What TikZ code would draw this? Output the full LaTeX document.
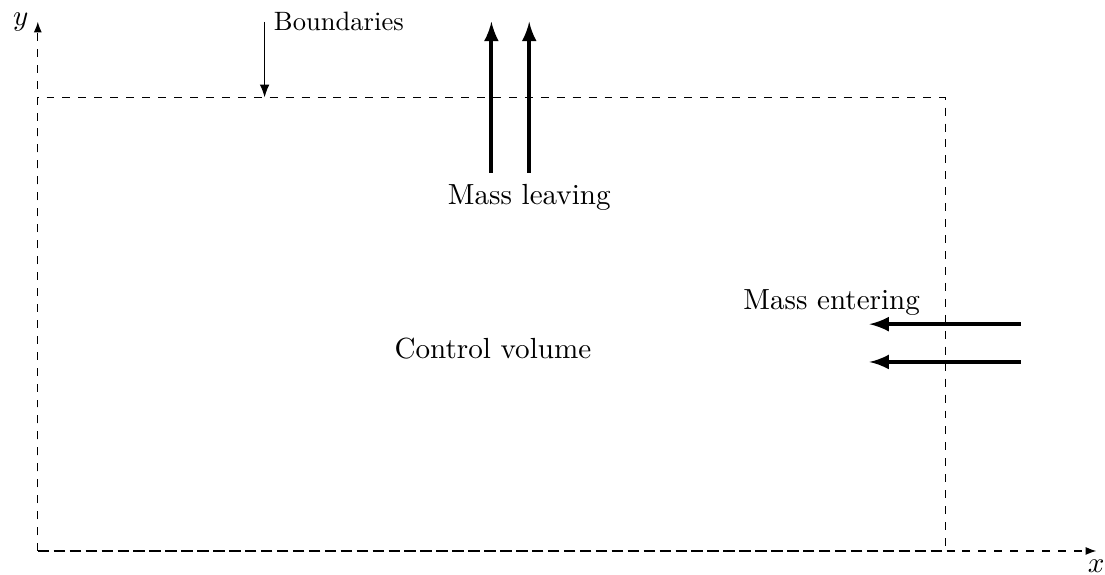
\documentclass[tikz,border=0pt]{standalone}
\usetikzlibrary{arrows,arrows.meta}
\begin{document}
\begin{tikzpicture}[
  boundary/.style={dashed, line width=0.4pt},
  axis/.style={dashed, -{Latex[length=4pt,width=3pt]}},
  flow/.style={line width=1.5pt, -latex},
  pointer/.style={-{Latex}},
  lbl/.style={font=\fontsize{10.95}{13}\selectfont},
  smalllbl/.style={font=\normalsize}
]
\useasboundingbox (-0.5,-0.317) rectangle (14.116,7.288);
% coordinates
\coordinate (O) at (0,0);
\coordinate (X) at (14,0);
\coordinate (Y) at (0,7);
\coordinate (B1) at (3,7);
\coordinate (B2) at (3,6);
\coordinate (L1s) at (6,5);
\coordinate (L1e) at (6,7);
\coordinate (L2s) at (6.5,5);
\coordinate (L2e) at (6.5,7);
\coordinate (E1s) at (13,3);
\coordinate (E1e) at (11,3);
\coordinate (E2s) at (13,2.5);
\coordinate (E2e) at (11,2.5);
% control volume boundary
\draw[boundary] (O) rectangle (12,6);
% axes
\draw[axis] (O) -- (X);
\draw[axis] (O) -- (Y);
\node[below, lbl] (xl) at (X) {$x$};
\node[left, lbl] (yl) at (Y) {$y$};
% boundaries pointer
\draw[pointer] (B1) -- (B2);
\node[right, smalllbl] (bl) at (B1) {Boundaries};
% mass leaving
\draw[flow] (L1s) -- (L1e);
\draw[flow] (L2s) -- (L2e);
\node[lbl] (ml) at (6.5,4.68) {Mass leaving};
% mass entering
\draw[flow] (E1s) -- (E1e);
\draw[flow] (E2s) -- (E2e);
\node[lbl] (me) at (10.5,3.28) {Mass entering};
% control volume label
\node[lbl] (cv) at (6.02,2.68) {Control volume};
\end{tikzpicture}
\end{document}
